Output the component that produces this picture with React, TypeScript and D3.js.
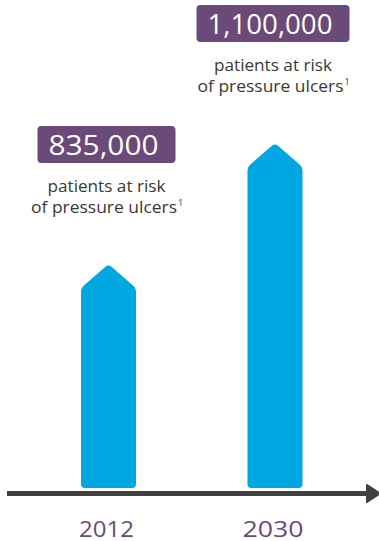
import React, { useEffect, useRef } from "react";
import * as d3 from "d3";

const years = ["2012", "2030"];
const patients = [835000, 1100000];
const valueLabels = ["835,000", "1,100,000"];
const captionLines = ["patients at risk", "of pressure ulcers"];

const W = 379;
const H = 541;
const FONT = "'Open Sans', 'DejaVu Sans', sans-serif";

export default function App() {
  const ref = useRef<SVGSVGElement>(null);

  useEffect(() => {
    const svg = d3.select(ref.current);
    svg.selectAll("*").remove();

    const x = d3.scalePoint<string>().domain(years).range([108.5, 275]);
    const y = d3.scaleLinear().domain([835000, 1100000]).range([264, 143]);
    const baseY = 488;
    const barW = 55;
    const roof = 24;

    const barPath = (cx: number, top: number) => {
      const p = d3.path();
      const l = cx - barW / 2;
      const r = cx + barW / 2;
      const sh = top + roof;
      p.moveTo(l, sh + 6);
      p.arcTo(l, sh, cx - barW / 2 + 5, sh - 4.5, 7);
      p.arcTo(cx, top, cx + 5, top + 4.5, 5);
      p.arcTo(r, sh, r, sh + 6, 7);
      p.arcTo(r, baseY, r - 4, baseY, 4);
      p.arcTo(l, baseY, l, baseY - 4, 4);
      p.closePath();
      return p.toString();
    };

    const valueWidths = [110, 125];
    const yearWidths = [55, 61];

    years.forEach((yr, i) => {
      const cx = x(yr)!;
      const top = y(patients[i]);
      svg
        .append("path")
        .attr("d", barPath(cx, top))
        .attr("fill", "#00a7e1");

      const boxTop = top - 138;
      const boxC = cx - 2;
      const tw = valueWidths[i];
      const tx = boxC - 3 - tw / 2;
      svg
        .append("rect")
        .attr("x", tx - 11)
        .attr("y", boxTop)
        .attr("width", tw + 28)
        .attr("height", 37)
        .attr("rx", 4)
        .attr("fill", "#6a4a78");
      svg
        .append("text")
        .attr("x", tx)
        .attr("y", top - 109)
        .attr("fill", "#ffffff")
        .attr("font-family", FONT)
        .attr("font-size", 27)
        .attr("textLength", tw)
        .attr("lengthAdjust", "spacingAndGlyphs")
        .text(valueLabels[i]);

      const c1w = 118;
      svg
        .append("text")
        .attr("x", boxC - c1w / 2)
        .attr("y", top - 72.5)
        .attr("fill", "#383838")
        .attr("font-family", FONT)
        .attr("font-size", 16.5)
        .attr("textLength", c1w)
        .attr("lengthAdjust", "spacingAndGlyphs")
        .text(captionLines[0]);
      const c2w = 146;
      const c2x = boxC - (c2w + 5) / 2;
      svg
        .append("text")
        .attr("x", c2x)
        .attr("y", top - 51.5)
        .attr("fill", "#383838")
        .attr("font-family", FONT)
        .attr("font-size", 16.5)
        .attr("textLength", c2w)
        .attr("lengthAdjust", "spacingAndGlyphs")
        .text(captionLines[1]);
      svg
        .append("text")
        .attr("x", c2x + c2w + 1)
        .attr("y", top - 58)
        .attr("fill", "#383838")
        .attr("font-family", FONT)
        .attr("font-size", 9)
        .text("1");

      svg
        .append("text")
        .attr("x", cx - 2 - yearWidths[i] / 2)
        .attr("y", 536.5)
        .attr("fill", "#6a4a78")
        .attr("font-family", FONT)
        .attr("font-size", 22)
        .attr("font-weight", 500)
        .attr("textLength", yearWidths[i])
        .attr("lengthAdjust", "spacingAndGlyphs")
        .text(yr);
    });

    // axis with arrow
    const axisY = 493.5;
    svg
      .append("line")
      .attr("x1", 7)
      .attr("x2", 370)
      .attr("y1", axisY)
      .attr("y2", axisY)
      .attr("stroke", "#404040")
      .attr("stroke-width", 5);
    const a = d3.path();
    a.moveTo(367, axisY - 8.5);
    a.lineTo(380, axisY);
    a.lineTo(367, axisY + 8.5);
    a.closePath();
    svg
      .append("path")
      .attr("d", a.toString())
      .attr("fill", "#404040")
      .attr("stroke", "#404040")
      .attr("stroke-width", 2)
      .attr("stroke-linejoin", "round");
  }, []);

  return (
    <svg
      ref={ref}
      width={W}
      height={H}
      style={{ position: "absolute", left: 0, top: 0, display: "block" }}
    />
  );
}
